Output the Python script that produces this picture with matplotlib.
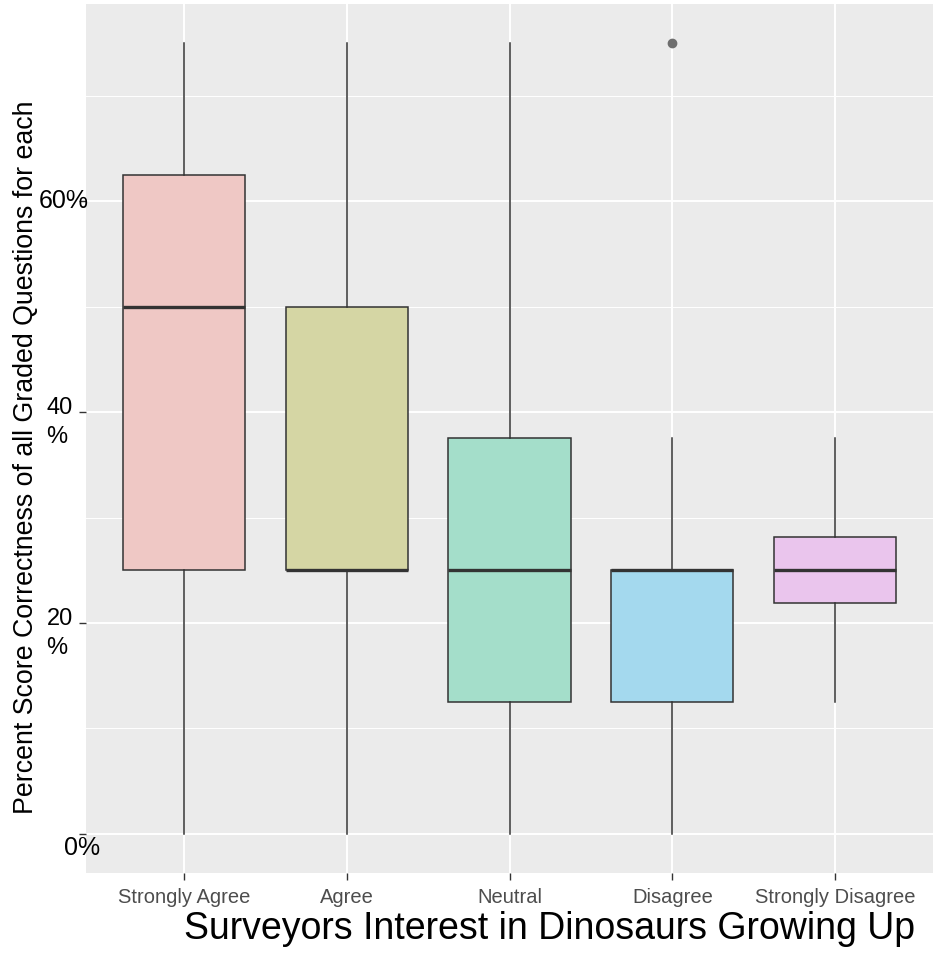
import numpy as np
import matplotlib.pyplot as plt
from matplotlib import transforms

categories = ["Strongly Agree", "Agree", "Neutral", "Disagree", "Strongly Disagree"]
whislo = [0, 0, 0, 0, 12.5]
q1 = [25, 25, 12.5, 12.5, 21.875]
med = [50, 25, 25, 25, 25]
q3 = [62.5, 50, 37.5, 25, 28.125]
whishi = [75, 75, 75, 37.5, 37.5]
fliers = [[], [], [], [75], []]
colors = ["#F8766D", "#A3A500", "#00BF7D", "#00B0F6", "#E76BF3"]

ytick_vals = [0, 20, 40, 60]
ytick_text = ["0%", "20\n%", "40\n%", "60%"]

plt.rcParams['font.family'] = ['Liberation Sans', 'DejaVu Sans']

fig = plt.figure(figsize=(9.33, 9.55), dpi=100)
ax = fig.add_axes([86 / 933, 1 - 873 / 955, 847 / 933, 869 / 955])
ax.set_facecolor("#EBEBEB")

stats = []
for i in range(len(categories)):
    stats.append(dict(whislo=whislo[i], q1=q1[i], med=med[i], q3=q3[i],
                      whishi=whishi[i], fliers=fliers[i]))

pos = np.arange(1, len(categories) + 1)
bp = ax.bxp(stats, positions=pos, widths=0.75, patch_artist=True, showcaps=False,
            boxprops=dict(edgecolor="#333333", linewidth=1.1),
            whiskerprops=dict(color="#333333", linewidth=1.1),
            medianprops=dict(color="#333333", linewidth=2.4),
            flierprops=dict(marker="o", markerfacecolor="#6E6E6E", markeredgecolor="#6E6E6E",
                            markersize=6))
# alpha 0.3 fill over the grey panel
bg = 235 / 255
for patch, c in zip(bp["boxes"], colors):
    r, g, b, _ = plt.matplotlib.colors.to_rgba(c)
    patch.set_facecolor((0.3 * r + 0.7 * bg, 0.3 * g + 0.7 * bg, 0.3 * b + 0.7 * bg))

ax.set_xlim(0.4, len(categories) + 0.6)
ax.set_ylim(-3.75, 78.75)

ax.set_yticks(ytick_vals)
ax.set_yticks([10, 30, 50, 70], minor=True)
ax.set_yticklabels([])
ax.set_xticks(pos)
ax.set_xticklabels(categories, fontsize=14.5, color="#4D4D4D")
ax.grid(True, which="major", color="white", linewidth=1.4)
ax.grid(True, which="minor", axis="y", color="white", linewidth=0.7)
ax.set_axisbelow(True)
ax.tick_params(axis="both", which="major", length=5, width=1, color="#333333")
ax.tick_params(axis="y", which="minor", length=0)
ax.tick_params(axis="x", pad=6)
for s in ax.spines.values():
    s.set_visible(False)

# y tick labels, placed the way the reference shows them
tr = transforms.blended_transform_factory(fig.transFigure, ax.transData)
label_x = [100, 73, 73, 89]
label_dy = [-1.35, 0.0, 0.0, 0.0]
for v, t, lx, dy in zip(ytick_vals, ytick_text, label_x, label_dy):
    if "\n" in t:
        top, bot = t.split("\n")
        ax.text(lx / 933, v + 0.4, top, transform=tr, ha="right", va="center", fontsize=17)
        ax.text((lx - 16) / 933, v - 2.4, bot, transform=tr, ha="center", va="center", fontsize=17)
    else:
        ax.text(lx / 933, v + dy, t, transform=tr, ha="right", va="center", fontsize=18)

fig.text(550 / 933, 1 - 929 / 955, "Surveyors Interest in Dinosaurs Growing Up",
         ha="center", va="center", fontsize=27)
fig.text(26 / 933, 1 - 457 / 955, "Percent Score Correctness of all Graded Questions for each",
         ha="center", va="center", rotation=90, fontsize=19.3)

fig.savefig("out.png", dpi=100)
